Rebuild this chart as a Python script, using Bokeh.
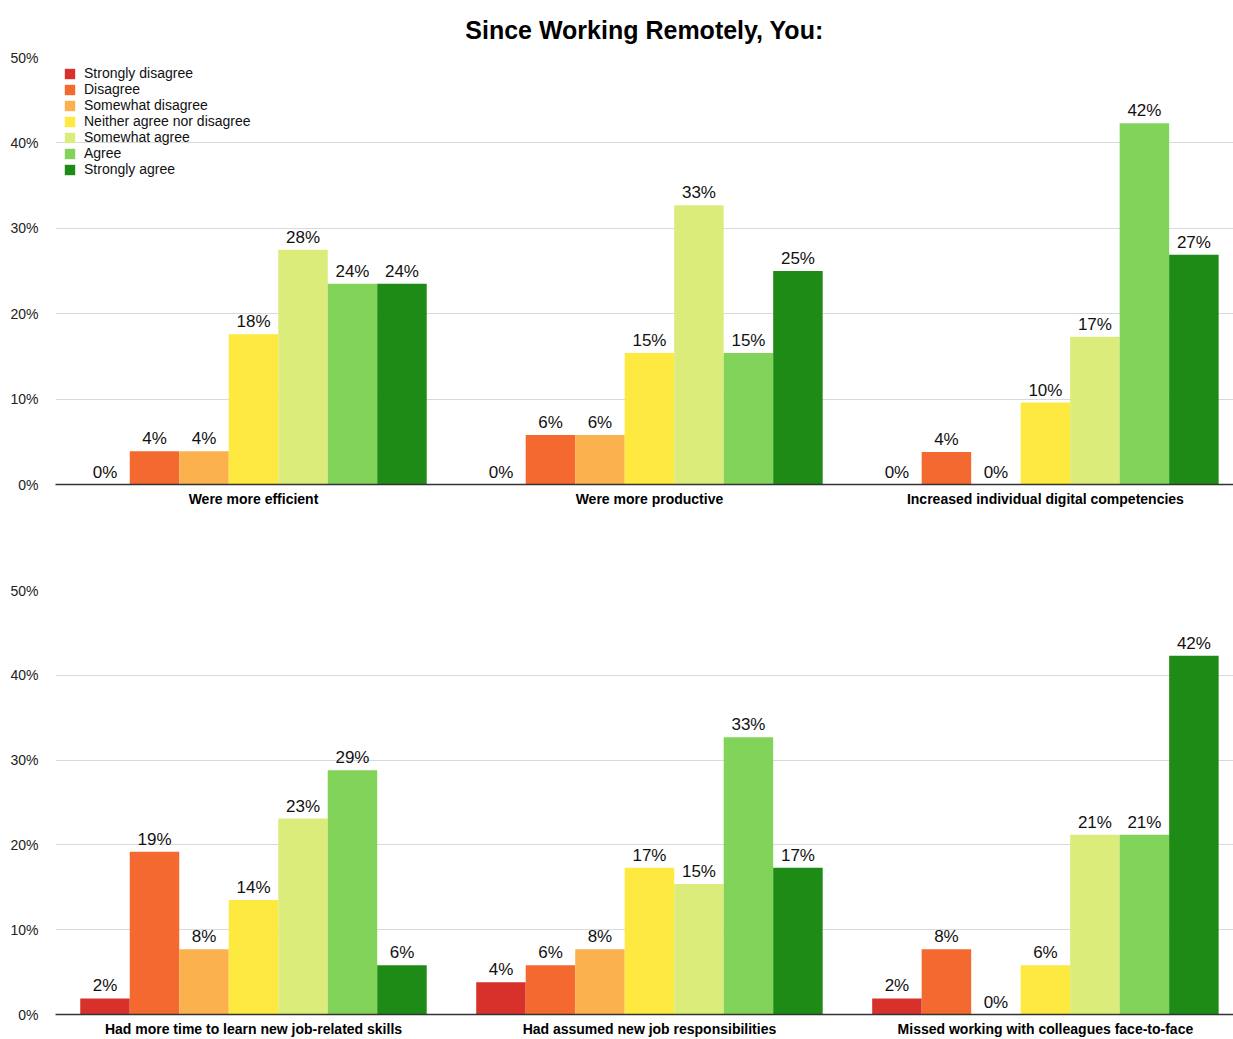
from bokeh.plotting import figure
from bokeh.layouts import column
from bokeh.models import (Range1d, FixedTicker, PrintfTickFormatter,
                          ColumnDataSource, Legend, LegendItem)
from bokeh.transform import dodge
from bokeh.core.properties import value
from bokeh.embed import file_html
from bokeh.resources import INLINE

FONT = "Liberation Sans"

responses = ["Strongly disagree", "Disagree", "Somewhat disagree",
             "Neither agree nor disagree", "Somewhat agree", "Agree",
             "Strongly agree"]
colors = ["#D8302A", "#F4692F", "#FBB24E", "#FEE940", "#DCEC7B",
          "#82D35A", "#1E8B17"]

top_statements = ["Were more efficient", "Were more productive",
                  "Increased individual digital competencies"]
bottom_statements = ["Had more time to learn new job-related skills",
                     "Had assumed new job responsibilities",
                     "Missed working with colleagues face-to-face"]

# share of respondents (%) per answer, one list per statement
more_efficient = [0.0, 3.9, 3.9, 17.6, 27.5, 23.5, 23.5]
more_productive = [0.0, 5.8, 5.8, 15.4, 32.7, 15.4, 25.0]
digital_competencies = [0.0, 3.8, 0.0, 9.6, 17.3, 42.3, 26.9]
time_to_learn = [1.9, 19.2, 7.7, 13.5, 23.1, 28.8, 5.8]
new_responsibilities = [3.8, 5.8, 7.7, 17.3, 15.4, 32.7, 17.3]
missed_colleagues = [1.9, 7.7, 0.0, 5.8, 21.2, 21.2, 42.3]

top_rows = [more_efficient, more_productive, digital_competencies]
bottom_rows = [time_to_learn, new_responsibilities, missed_colleagues]

BAR_W = 0.125


def pct(v):
    return "%d%%" % int(v + 0.5)


def make_panel(statements, rows, height, border_top, border_bottom,
               title=None, legend=False):
    p = figure(width=1233, height=height,
               x_range=Range1d(-0.5, 2.475), y_range=Range1d(0, 50),
               output_backend="svg", toolbar_location=None,
               min_border_left=55, min_border_right=0,
               min_border_top=border_top, min_border_bottom=border_bottom,
               outline_line_color=None, background_fill_color="white",
               border_fill_color="white")
    if title:
        p.title.text = title
        p.title.align = "center"
        p.title.text_font = FONT
        p.title.text_font_size = "25px"
        p.title.text_font_style = "bold"
        p.title.text_color = "black"
        p.title.standoff = 27

    p.xgrid.visible = False
    p.ygrid.grid_line_color = "#d9d9d9"
    p.ygrid.grid_line_width = 1
    p.yaxis.ticker = FixedTicker(ticks=[0, 10, 20, 30, 40, 50])
    p.yaxis.formatter = PrintfTickFormatter(format="%d%%")
    p.yaxis.axis_line_color = None
    p.yaxis.major_tick_line_color = None
    p.yaxis.minor_tick_line_color = None
    p.yaxis.major_label_text_font = FONT
    p.yaxis.major_label_text_font_size = "14px"
    p.yaxis.major_label_text_color = "#222222"
    p.yaxis.major_label_standoff = 11

    p.xaxis.ticker = FixedTicker(ticks=[0, 1, 2])
    p.xaxis.major_label_overrides = {i: s for i, s in enumerate(statements)}
    p.xaxis.major_tick_line_color = None
    p.xaxis.minor_tick_line_color = None
    p.xaxis.axis_line_color = "#333333"
    p.xaxis.axis_line_width = 1.5
    p.xaxis.major_label_text_font = FONT
    p.xaxis.major_label_text_font_size = "14px"
    p.xaxis.major_label_text_font_style = "bold"
    p.xaxis.major_label_text_color = "black"
    p.xaxis.major_label_standoff = 0

    items = []
    for i, (resp, col) in enumerate(zip(responses, colors)):
        vals = [r[i] for r in rows]
        src = ColumnDataSource(dict(g=[0, 1, 2], v=vals,
                                    lab=[pct(v) for v in vals]))
        off = (i - 3) * BAR_W
        r = p.vbar(x=dodge("g", off), top="v", width=BAR_W, source=src,
                   fill_color=col, line_color=None)
        p.text(x=dodge("g", off), y="v", text="lab", source=src,
               text_align="center", text_baseline="bottom", y_offset=-3,
               text_font=value(FONT), text_font_size="17px",
               text_color="#111111")
        items.append(LegendItem(label=resp, renderers=[r]))

    if legend:
        lg = Legend(items=items, location="top_left", margin=8, padding=0,
                    border_line_color=None, background_fill_alpha=0,
                    glyph_width=13, glyph_height=13, label_height=13,
                    spacing=0, label_standoff=8,
                    label_text_font=FONT, label_text_font_size="14px",
                    label_text_color="#111111")
        p.add_layout(lg)
    return p


p_top = make_panel(top_statements, top_rows, 540, 56, 56,
                   title="Since Working Remotely, You:", legend=True)
p_bottom = make_panel(bottom_statements, bottom_rows, 499, 50, 21)

layout = column(p_top, p_bottom, spacing=0)
open("out.html", "w").write(file_html(layout, INLINE))
